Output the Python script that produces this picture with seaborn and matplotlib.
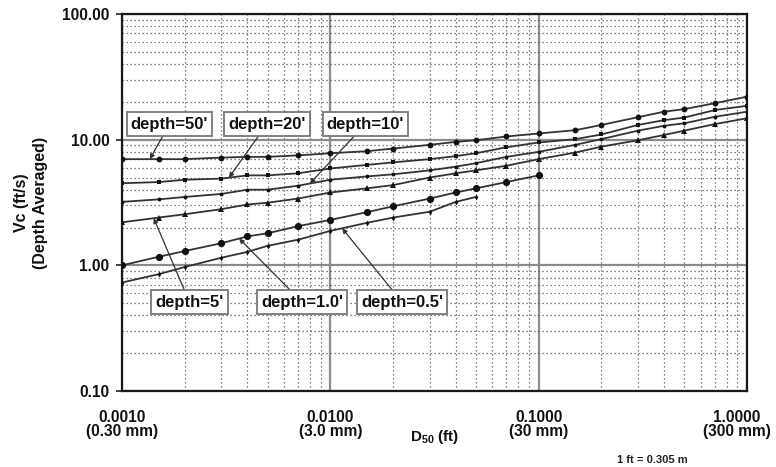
import numpy as np
import pandas as pd
import matplotlib
matplotlib.use("Agg")
import matplotlib.pyplot as plt
import matplotlib.transforms as mtransforms
import seaborn as sns
from matplotlib.ticker import LogLocator, FixedLocator, FixedFormatter, NullFormatter

# ---------------- data ----------------
d50_ft = [0.001, 0.0015, 0.002, 0.003, 0.004, 0.005, 0.007, 0.01, 0.015, 0.02,
          0.03, 0.04, 0.05, 0.07, 0.1, 0.15, 0.2, 0.3, 0.4, 0.5, 0.7, 1.0]

vc_depth50 = [7.0, 7.0, 7.0, 7.2, 7.3, 7.3, 7.5, 7.8, 8.1, 8.5, 9.1, 9.6, 9.9,
              10.6, 11.2, 11.9, 13.1, 15.1, 16.7, 17.5, 19.5, 22.0]
vc_depth20 = [4.5, 4.6, 4.8, 4.9, 5.2, 5.2, 5.4, 5.9, 6.3, 6.6, 7.0, 7.4, 7.8,
              8.7, 9.5, 10.1, 11.0, 13.1, 14.3, 15.0, 17.2, 18.6]
vc_depth10 = [3.2, 3.35, 3.5, 3.7, 4.0, 4.0, 4.3, 4.8, 5.1, 5.3, 5.7, 6.1, 6.5,
              7.3, 8.0, 9.1, 10.1, 11.8, 12.9, 13.5, 15.2, 16.7]
vc_depth5 = [2.2, 2.4, 2.55, 2.8, 3.05, 3.15, 3.4, 3.8, 4.1, 4.35, 5.0, 5.4, 5.7,
             6.2, 7.0, 7.9, 8.8, 9.9, 10.9, 11.8, 13.3, 14.8]
vc_depth1_0 = [1.0, 1.17, 1.3, 1.5, 1.7, 1.8, 2.05, 2.3, 2.65, 2.95, 3.4, 3.8,
               4.1, 4.6, 5.2]
vc_depth0_5 = [0.73, 0.85, 0.97, 1.15, 1.28, 1.43, 1.6, 1.88, 2.18, 2.4, 2.67,
               3.2, 3.5]

series_names = ["depth=50'", "depth=20'", "depth=10'", "depth=5'", "depth=1.0'", "depth=0.5'"]
series_values = [vc_depth50, vc_depth20, vc_depth10, vc_depth5, vc_depth1_0, vc_depth0_5]

x_tick_values = [0.001, 0.01, 0.1, 1.0]
x_tick_labels = ["0.0010\n(0.30 mm)", "0.0100\n(3.0 mm)", "0.1000\n(30 mm)", "1.0000\n(300 mm)"]
y_tick_values = [0.1, 1.0, 10.0, 100.0]
y_tick_labels = ["0.10", "1.00", "10.00", "100.00"]

rows = []
for name, vals in zip(series_names, series_values):
    for xv, yv in zip(d50_ft, vals):
        rows.append({"D50": xv, "Vc": yv, "series": name})
df = pd.DataFrame(rows)

# ---------------- styling ----------------
sns.set_theme(style="white")
plt.rcParams["font.family"] = ["Liberation Sans", "DejaVu Sans"]
plt.rcParams["mathtext.fontset"] = "custom"
plt.rcParams["mathtext.rm"] = "Liberation Sans"
plt.rcParams["mathtext.bf"] = "Liberation Sans:bold"

marker_style = {
    "depth=50'": ("o", 4.2),
    "depth=20'": ("s", 2.8),
    "depth=10'": ("o", 2.8),
    "depth=5'": ("^", 4.4),
    "depth=1.0'": ("o", 5.2),
    "depth=0.5'": ("d", 3.0),
}
line_color = "#333333"

fig = plt.figure(figsize=(7.76, 4.67), dpi=100)
ax = fig.add_axes([0.1572, 0.1627, 0.8054, 0.8073])

for name in series_names:
    sub = df[df["series"] == name]
    m, ms = marker_style[name]
    sns.lineplot(data=sub, x="D50", y="Vc", ax=ax, color=line_color, lw=1.3,
                 marker=m, markersize=ms, markeredgewidth=0,
                 markerfacecolor="#111111", estimator=None, sort=False,
                 legend=False, zorder=3)

ax.set_xscale("log")
ax.set_yscale("log")
ax.set_xlim(0.001, 1.0)
ax.set_ylim(0.1, 100.0)

ax.xaxis.set_major_locator(FixedLocator(x_tick_values))
ax.xaxis.set_major_formatter(FixedFormatter(x_tick_labels))
ax.yaxis.set_major_locator(FixedLocator(y_tick_values))
ax.yaxis.set_major_formatter(FixedFormatter(y_tick_labels))
ax.xaxis.set_minor_locator(LogLocator(base=10, subs=np.arange(2, 10)))
ax.yaxis.set_minor_locator(LogLocator(base=10, subs=np.arange(2, 10)))
ax.xaxis.set_minor_formatter(NullFormatter())
ax.yaxis.set_minor_formatter(NullFormatter())

ax.grid(which="major", color="#8c8c8c", lw=1.6, ls="-")
ax.grid(which="minor", color="#555555", lw=0.9, ls=(0, (1, 2.2)))
ax.set_axisbelow(True)

ax.tick_params(axis="x", which="major", length=0, pad=14, labelsize=11.2)
ax.tick_params(axis="y", which="major", length=4, width=1.2, direction="out",
               pad=5, labelsize=11.2, left=True, color="#222222")
ax.tick_params(which="minor", length=0)
for lab in ax.get_xticklabels() + ax.get_yticklabels():
    lab.set_fontweight("bold")
    lab.set_color("#111111")
xlabs = ax.get_xticklabels()
for lab in xlabs:
    lab.set_linespacing(0.9)
# last tick label sits a little left of its tick in the reference
shift = mtransforms.ScaledTranslation(-10 / 100, 0, fig.dpi_scale_trans)
xlabs[-1].set_transform(xlabs[-1].get_transform() + shift)

for sp in ax.spines.values():
    sp.set_color("#1a1a1a")
    sp.set_linewidth(1.6)

ax.set_ylabel("Vc (ft/s)\n(Depth Averaged)", fontsize=11.5, fontweight="bold",
              color="#111111", linespacing=1.35)
ax.yaxis.label.set_va("center")
ax.yaxis.set_label_coords(-0.145, 0.5)

ax.set_xlabel(r"$\mathbf{D_{50}}$ (ft)", fontsize=11, fontweight="bold", color="#111111")
ax.xaxis.label.set_va("center")
ax.xaxis.set_label_coords(0.5, -0.122)

fig.text(652 / 776, 1 - 460 / 467, "1 ft = 0.305 m", ha="center", va="center",
         fontsize=8, fontweight="bold", color="#222222")

# ---------------- callout labels ----------------
label_pos = {
    "depth=50'": (0.076, 0.708, 0.00136),
    "depth=20'": (0.232, 0.708, 0.00326),
    "depth=10'": (0.3896, 0.708, 0.00798),
    "depth=5'": (0.108, 0.236, 0.00142),
    "depth=1.0'": (0.288, 0.236, 0.00365),
    "depth=0.5'": (0.448, 0.236, 0.0114),
}
for name, vals in zip(series_names, series_values):
    fx, fy, tx = label_pos[name]
    xs = np.log10(d50_ft[:len(vals)])
    ty = 10 ** np.interp(np.log10(tx), xs, np.log10(vals))
    ax.annotate(name, xy=(tx, ty), xycoords="data", xytext=(fx, fy),
                textcoords="axes fraction", ha="center", va="center",
                fontsize=12, fontweight="bold", color="#111111", zorder=5,
                bbox=dict(boxstyle="square,pad=0.25", fc="white", ec="#777777", lw=1.3),
                arrowprops=dict(arrowstyle="-|>", color="#333333", lw=0.9,
                                mutation_scale=7, shrinkA=0, shrinkB=0))

fig.savefig("out.png", dpi=100)
